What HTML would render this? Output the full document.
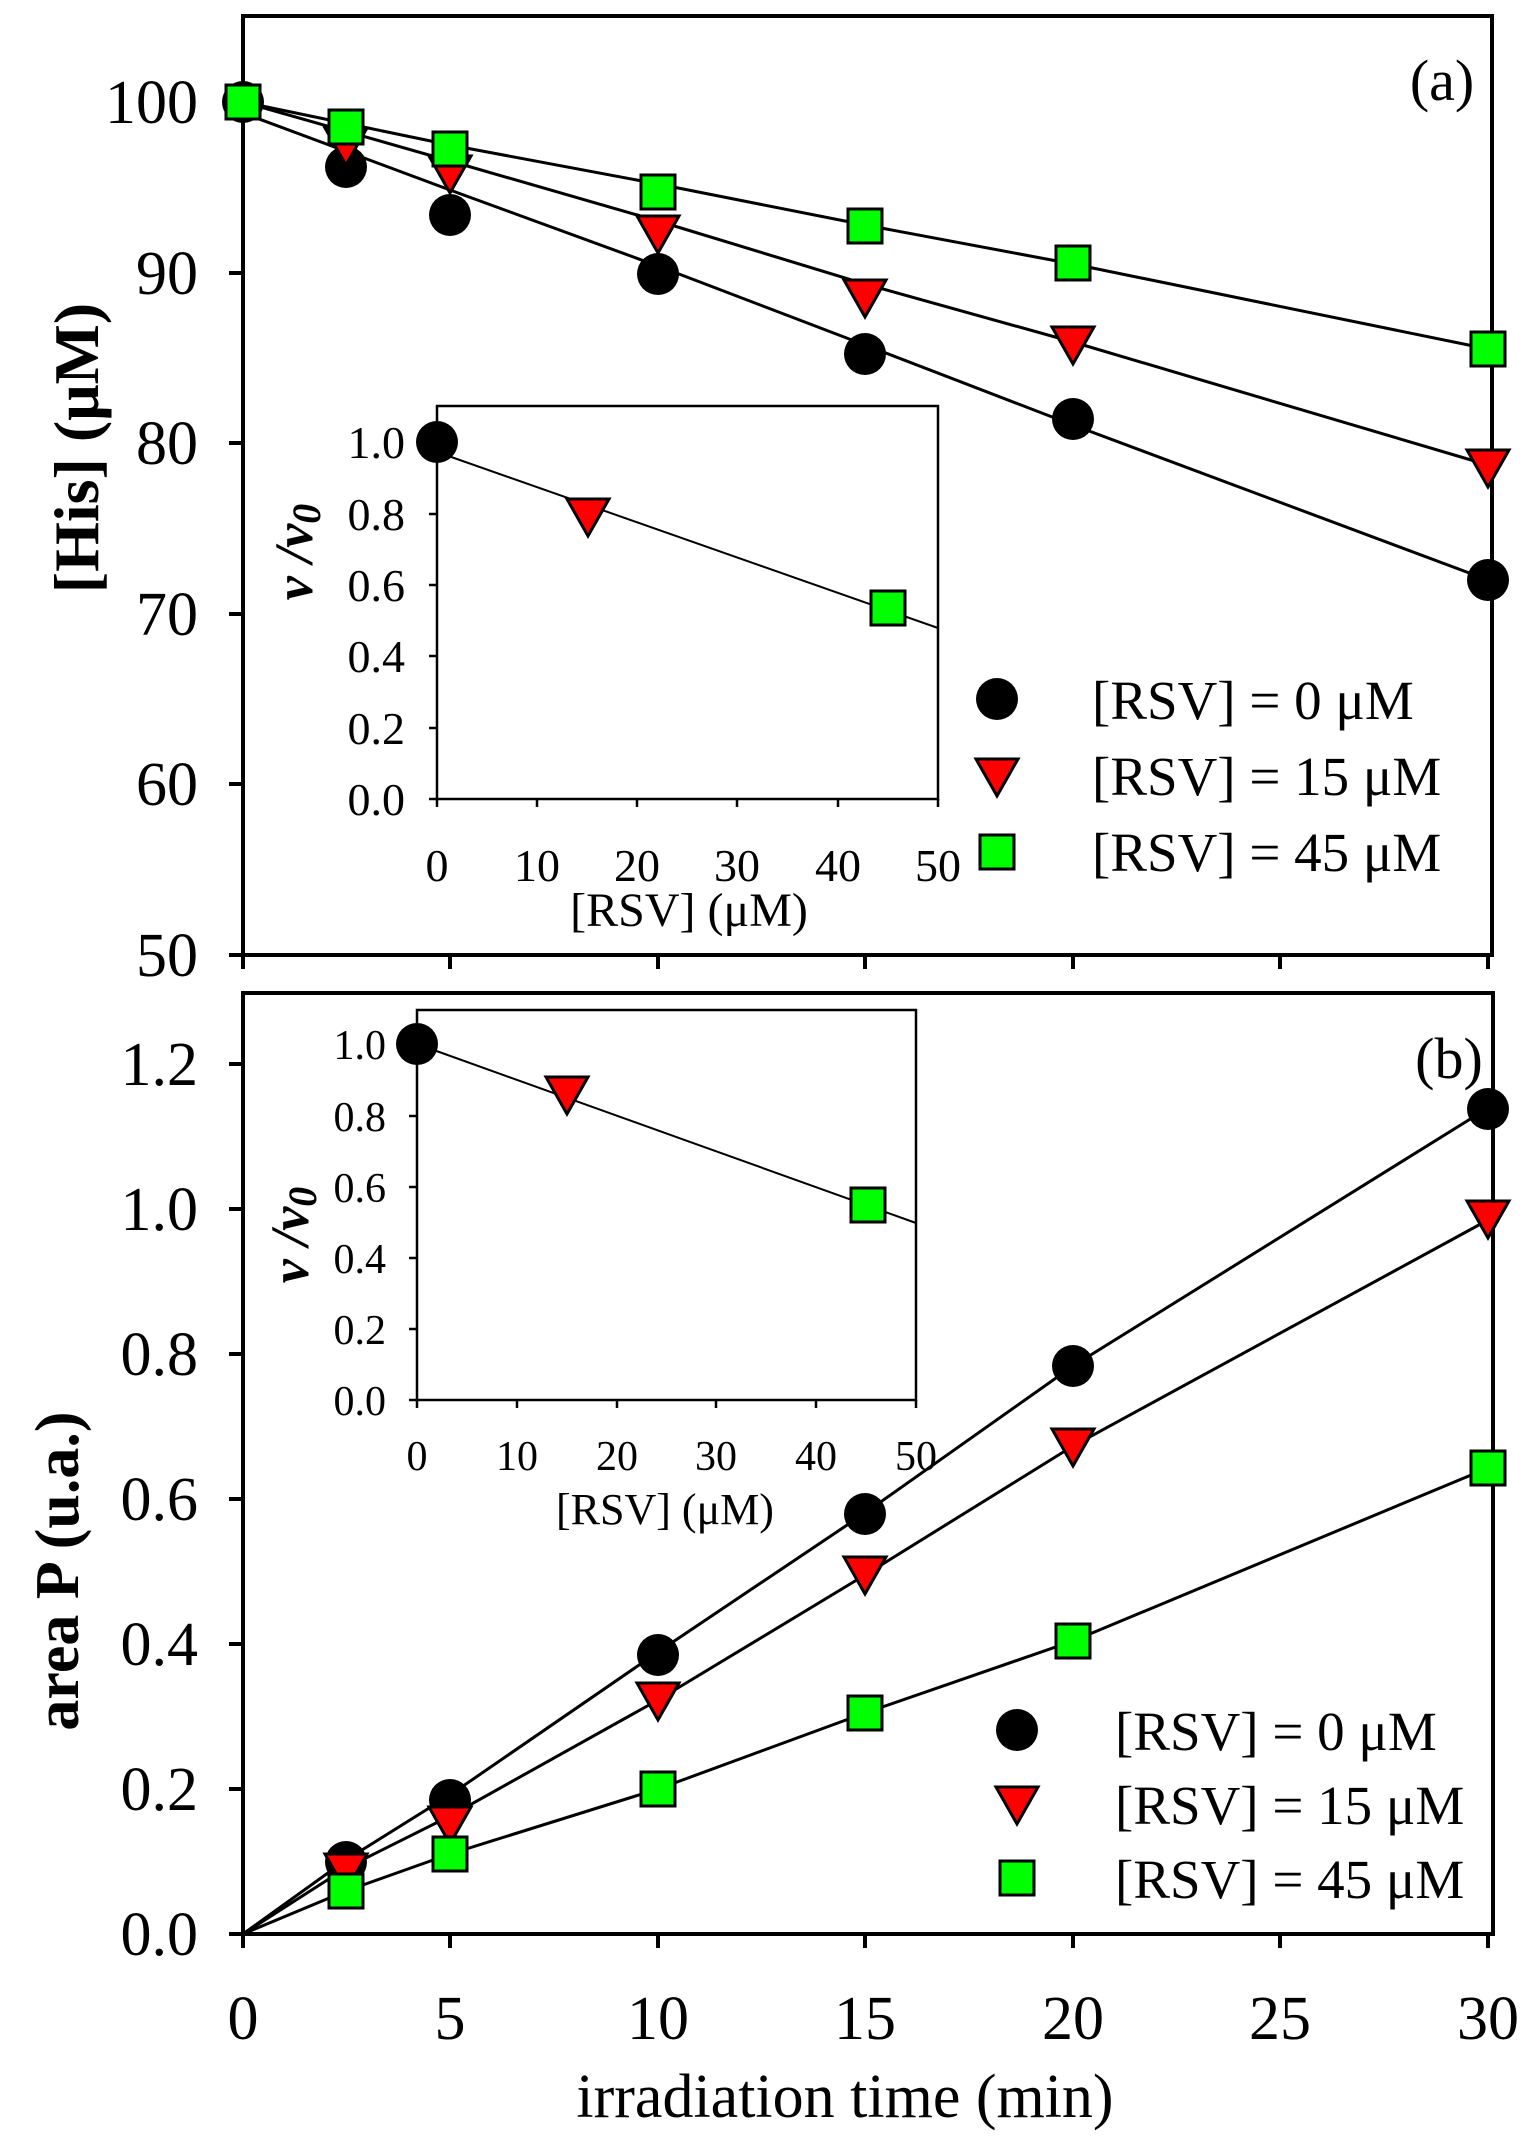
<!DOCTYPE html>
<html><head><meta charset="utf-8"><style>
html,body{margin:0;padding:0;background:#fff;}
svg{display:block;}
text{font-family:"Liberation Serif",serif;fill:#000;}
</style></head><body>
<svg width="1533" height="2139" viewBox="0 0 1533 2139" xmlns="http://www.w3.org/2000/svg">
<defs>
<g id="c"><circle r="21" fill="#000"/></g>
<g id="t"><path d="M-21,-17 L21,-17 L0,20 Z" fill="#f00" stroke="#000" stroke-width="3"/></g>
<g id="s"><rect x="-17" y="-17" width="34" height="34" fill="#0f0" stroke="#000" stroke-width="3"/></g>
</defs>

<!-- ========== PANEL A ========== -->
<rect x="243" y="16" width="1249" height="939" fill="none" stroke="#000" stroke-width="4"/>
<g stroke="#000" stroke-width="4">
<line x1="229" y1="102" x2="243" y2="102"/><line x1="229" y1="273" x2="243" y2="273"/>
<line x1="229" y1="443" x2="243" y2="443"/><line x1="229" y1="614" x2="243" y2="614"/>
<line x1="229" y1="784" x2="243" y2="784"/><line x1="229" y1="955" x2="243" y2="955"/>
<line x1="243" y1="955" x2="243" y2="969"/><line x1="450" y1="955" x2="450" y2="969"/>
<line x1="658" y1="955" x2="658" y2="969"/><line x1="865" y1="955" x2="865" y2="969"/>
<line x1="1073" y1="955" x2="1073" y2="969"/><line x1="1280" y1="955" x2="1280" y2="969"/>
<line x1="1488" y1="955" x2="1488" y2="969"/>
</g>
<g font-size="62" text-anchor="end">
<text x="198" y="123">100</text><text x="198" y="294">90</text><text x="198" y="464">80</text>
<text x="198" y="635">70</text><text x="198" y="805">60</text><text x="198" y="976">50</text>
</g>
<text transform="translate(98,448) rotate(-90)" font-size="64" font-weight="bold" text-anchor="middle">[His] (μM)</text>
<text x="1442" y="100" font-size="58" text-anchor="middle">(a)</text>

<g fill="none" stroke="#000" stroke-width="3">
<polyline points="243,113 450,190 658,266 865,345 1073,425 1488,580"/>
<polyline points="243,102 450,161 658,221 865,284 1073,342 1488,465"/>
<polyline points="243,102 450,145 658,184 865,225 1073,264 1488,349"/>
</g>
<use href="#c" x="243" y="102"/><use href="#c" x="346" y="167"/><use href="#c" x="450" y="215"/>
<use href="#c" x="658" y="274"/><use href="#c" x="865" y="354"/><use href="#c" x="1073" y="419"/><use href="#c" x="1488" y="580"/>
<use href="#t" x="346" y="145"/><use href="#t" x="450" y="173"/><use href="#t" x="658" y="233"/>
<use href="#t" x="865" y="297"/><use href="#t" x="1073" y="344"/><use href="#t" x="1488" y="467"/>
<use href="#s" x="243" y="102"/><use href="#s" x="346" y="127"/><use href="#s" x="450" y="149"/>
<use href="#s" x="658" y="192"/><use href="#s" x="865" y="226"/><use href="#s" x="1073" y="263"/><use href="#s" x="1488" y="349"/>

<!-- inset a -->
<rect x="437" y="406" width="501" height="393" fill="#fff" stroke="#000" stroke-width="2.5"/>
<g stroke="#000" stroke-width="2.5">
<line x1="429" y1="799" x2="437" y2="799"/><line x1="429" y1="728" x2="437" y2="728"/>
<line x1="429" y1="656" x2="437" y2="656"/><line x1="429" y1="585" x2="437" y2="585"/>
<line x1="429" y1="514" x2="437" y2="514"/><line x1="429" y1="442" x2="437" y2="442"/>
<line x1="437" y1="799" x2="437" y2="807"/><line x1="537" y1="799" x2="537" y2="807"/>
<line x1="637" y1="799" x2="637" y2="807"/><line x1="737" y1="799" x2="737" y2="807"/>
<line x1="838" y1="799" x2="838" y2="807"/><line x1="938" y1="799" x2="938" y2="807"/>
</g>
<g font-size="46" text-anchor="end">
<text x="405" y="815">0.0</text><text x="405" y="744">0.2</text><text x="405" y="672">0.4</text>
<text x="405" y="601">0.6</text><text x="405" y="530">0.8</text><text x="405" y="458">1.0</text>
</g>
<g font-size="46" text-anchor="middle">
<text x="437" y="881">0</text><text x="537" y="881">10</text><text x="637" y="881">20</text>
<text x="737" y="881">30</text><text x="838" y="881">40</text><text x="938" y="881">50</text>
</g>
<text x="689" y="926" font-size="48" text-anchor="middle">[RSV] (μM)</text>
<text transform="translate(312,552) rotate(-90)" font-size="54" font-weight="bold" text-anchor="middle" font-style="italic">v /v<tspan font-size="40" dy="8">0</tspan></text>
<line x1="437" y1="452" x2="938" y2="628" stroke="#000" stroke-width="2"/>
<use href="#c" x="437" y="442"/><use href="#t" x="588" y="516"/><use href="#s" x="888" y="608"/>

<use href="#c" x="997" y="699"/><use href="#t" x="997" y="776"/><use href="#s" x="997" y="852"/>
<g font-size="55">
<text x="1092" y="719">[RSV] = 0 μM</text>
<text x="1092" y="795">[RSV] = 15 μM</text>
<text x="1092" y="871">[RSV] = 45 μM</text>
</g>

<!-- ========== PANEL B ========== -->
<rect x="243" y="993" width="1250" height="941" fill="none" stroke="#000" stroke-width="4"/>
<g stroke="#000" stroke-width="4">
<line x1="229" y1="1934" x2="243" y2="1934"/><line x1="229" y1="1789" x2="243" y2="1789"/>
<line x1="229" y1="1644" x2="243" y2="1644"/><line x1="229" y1="1499" x2="243" y2="1499"/>
<line x1="229" y1="1354" x2="243" y2="1354"/><line x1="229" y1="1209" x2="243" y2="1209"/>
<line x1="229" y1="1064" x2="243" y2="1064"/>
<line x1="243" y1="1934" x2="243" y2="1948"/><line x1="450" y1="1934" x2="450" y2="1948"/>
<line x1="658" y1="1934" x2="658" y2="1948"/><line x1="865" y1="1934" x2="865" y2="1948"/>
<line x1="1073" y1="1934" x2="1073" y2="1948"/><line x1="1280" y1="1934" x2="1280" y2="1948"/>
<line x1="1488" y1="1934" x2="1488" y2="1948"/>
</g>
<g font-size="62" text-anchor="end">
<text x="198" y="1955">0.0</text><text x="198" y="1810">0.2</text><text x="198" y="1665">0.4</text>
<text x="198" y="1520">0.6</text><text x="198" y="1375">0.8</text><text x="198" y="1230">1.0</text>
<text x="198" y="1085">1.2</text>
</g>
<g font-size="62" text-anchor="middle">
<text x="243" y="2039">0</text><text x="450" y="2039">5</text><text x="658" y="2039">10</text>
<text x="865" y="2039">15</text><text x="1073" y="2039">20</text><text x="1280" y="2039">25</text>
<text x="1488" y="2039">30</text>
</g>
<text x="845" y="2117" font-size="62" text-anchor="middle">irradiation time (min)</text>
<text transform="translate(78,1571) rotate(-90)" font-size="62" font-weight="bold" text-anchor="middle">area P (u.a.)</text>
<text x="1449" y="1078" font-size="58" text-anchor="middle">(b)</text>

<g fill="none" stroke="#000" stroke-width="3">
<polyline points="243,1934 346,1860 450,1795 658,1652 865,1513 1073,1366 1488,1108"/>
<polyline points="243,1934 346,1868 450,1816 658,1700 865,1575 1073,1446 1488,1220"/>
<polyline points="243,1934 346,1891 450,1854 658,1789 865,1713 1073,1641 1488,1468"/>
</g>
<use href="#c" x="346" y="1862"/><use href="#c" x="450" y="1800"/><use href="#c" x="658" y="1655"/>
<use href="#c" x="865" y="1514"/><use href="#c" x="1073" y="1366"/><use href="#c" x="1488" y="1109"/>
<use href="#t" x="346" y="1871"/><use href="#t" x="450" y="1824"/><use href="#t" x="658" y="1700"/>
<use href="#t" x="865" y="1574"/><use href="#t" x="1073" y="1446"/><use href="#t" x="1488" y="1218"/>
<use href="#s" x="346" y="1891"/><use href="#s" x="450" y="1854"/><use href="#s" x="658" y="1789"/>
<use href="#s" x="865" y="1713"/><use href="#s" x="1073" y="1641"/><use href="#s" x="1488" y="1468"/>

<!-- inset b -->
<rect x="417" y="1010" width="499" height="390" fill="#fff" stroke="#000" stroke-width="2.5"/>
<g stroke="#000" stroke-width="2.5">
<line x1="409" y1="1400" x2="417" y2="1400"/><line x1="409" y1="1329" x2="417" y2="1329"/>
<line x1="409" y1="1258" x2="417" y2="1258"/><line x1="409" y1="1187" x2="417" y2="1187"/>
<line x1="409" y1="1116" x2="417" y2="1116"/><line x1="409" y1="1044" x2="417" y2="1044"/>
<line x1="417" y1="1400" x2="417" y2="1408"/><line x1="517" y1="1400" x2="517" y2="1408"/>
<line x1="617" y1="1400" x2="617" y2="1408"/><line x1="716" y1="1400" x2="716" y2="1408"/>
<line x1="816" y1="1400" x2="816" y2="1408"/><line x1="916" y1="1400" x2="916" y2="1408"/>
</g>
<g font-size="42" text-anchor="end">
<text x="386" y="1415">0.0</text><text x="386" y="1344">0.2</text><text x="386" y="1273">0.4</text>
<text x="386" y="1202">0.6</text><text x="386" y="1131">0.8</text><text x="386" y="1059">1.0</text>
</g>
<g font-size="42" text-anchor="middle">
<text x="417" y="1470">0</text><text x="517" y="1470">10</text><text x="617" y="1470">20</text>
<text x="716" y="1470">30</text><text x="816" y="1470">40</text><text x="916" y="1470">50</text>
</g>
<text x="665" y="1524" font-size="44" text-anchor="middle">[RSV] (μM)</text>
<text transform="translate(308,1235) rotate(-90)" font-size="54" font-weight="bold" text-anchor="middle" font-style="italic">v /v<tspan font-size="40" dy="8">0</tspan></text>
<line x1="417" y1="1044" x2="916" y2="1223" stroke="#000" stroke-width="2"/>
<use href="#c" x="417" y="1044"/><use href="#t" x="567" y="1094"/><use href="#s" x="868" y="1205"/>

<use href="#c" x="1017" y="1730"/><use href="#t" x="1017" y="1804"/><use href="#s" x="1017" y="1878"/>
<g font-size="55">
<text x="1115" y="1750">[RSV] = 0 μM</text>
<text x="1115" y="1824">[RSV] = 15 μM</text>
<text x="1115" y="1898">[RSV] = 45 μM</text>
</g>
</svg>
</body></html>
